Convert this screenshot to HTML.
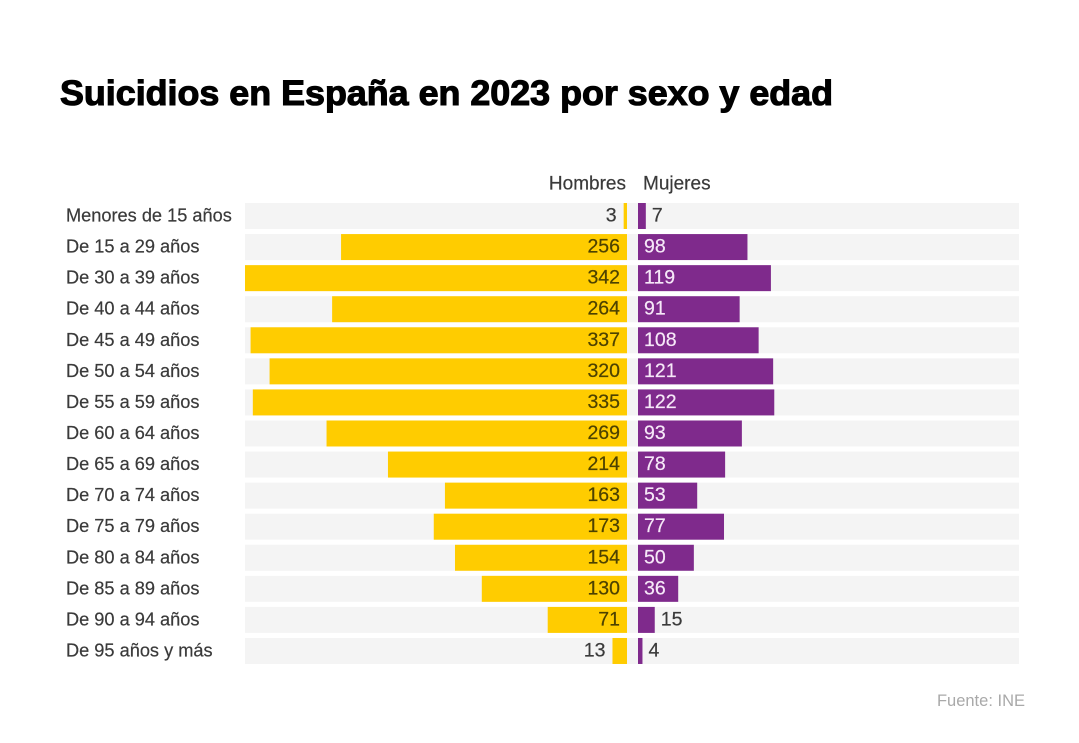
<!DOCTYPE html>
<html lang="es">
<head>
<meta charset="utf-8">
<title>Suicidios en España en 2023 por sexo y edad</title>
<style>
html,body{margin:0;padding:0;background:#fff;width:1079px;height:743px;overflow:hidden}
svg{display:block;font-family:"Liberation Sans",sans-serif;filter:blur(0.35px)}
</style>
</head>
<body>
<svg id="chart" width="1079" height="743" viewBox="0 0 1079 743" xmlns="http://www.w3.org/2000/svg">
  <text x="60" y="105" font-size="35" font-weight="700" fill="#000" stroke="#000" stroke-width="1.1" textLength="773" lengthAdjust="spacingAndGlyphs">Suicidios en España en 2023 por sexo y edad</text>
  <text x="626" y="189.500" font-size="19" fill="#3a3a3a" stroke="#3a3a3a" stroke-width="0.2" text-anchor="end">Hombres</text>
  <text x="643" y="189.500" font-size="19" fill="#3a3a3a" stroke="#3a3a3a" stroke-width="0.2">Mujeres</text>
  <g id="rows"></g>
  <text x="1025" y="706" font-size="16.500" fill="#a9a9a9" text-anchor="end">Fuente: INE</text>
</svg>
<script>
const categories = ["Menores de 15 años","De 15 a 29 años","De 30 a 39 años","De 40 a 44 años","De 45 a 49 años","De 50 a 54 años","De 55 a 59 años","De 60 a 64 años","De 65 a 69 años","De 70 a 74 años","De 75 a 79 años","De 80 a 84 años","De 85 a 89 años","De 90 a 94 años","De 95 años y más"];
const hombres = [3,256,342,264,337,320,335,269,214,163,173,154,130,71,13];
const mujeres = [7,98,119,91,108,121,122,93,78,53,77,50,36,15,4];

const NS = "http://www.w3.org/2000/svg";
const rowsGroup = document.getElementById("rows");
const pxPerUnit = 382 / 342;
const menBaseX = 627;
const womenBaseX = 638;
const trackLeft = 245;
const trackRight = 1019;
const firstRowY = 203;
const rowStep = 31.07;
const rowHeight = 26;
const insideThreshold = 20;

function widthOf(v) { return v * pxPerUnit; }
function rowY(i) { return firstRowY + i * rowStep; }

function makeRect(x, y, w, h, fill) {
  const r = document.createElementNS(NS, "rect");
  r.setAttribute("x", x);
  r.setAttribute("y", y);
  r.setAttribute("width", Math.max(w, 0));
  r.setAttribute("height", h);
  r.setAttribute("fill", fill);
  return r;
}
function makeText(x, y, str, size, fill, anchor) {
  const t = document.createElementNS(NS, "text");
  t.setAttribute("x", x);
  t.setAttribute("y", y);
  t.setAttribute("font-size", size);
  t.setAttribute("fill", fill);
  t.setAttribute("stroke", fill);
  t.setAttribute("stroke-width", "0.2");
  if (anchor) t.setAttribute("text-anchor", anchor);
  t.textContent = str;
  return t;
}

categories.forEach(function (cat, i) {
  const y = rowY(i);
  const baseline = y + 18.5;

  const label = makeText(66, baseline, cat, 18.2, "#3a3a3a");
  
  
  rowsGroup.appendChild(label);

  const track = makeRect(trackLeft, y, trackRight - trackLeft, rowHeight, "#f4f4f4");
  
  
  rowsGroup.appendChild(track);

  const mw = widthOf(hombres[i]);
  const menBar = makeRect(menBaseX - mw, y, mw, rowHeight, "#ffcc00");
  
  
  rowsGroup.appendChild(menBar);

  const fw = widthOf(mujeres[i]);
  const womenBar = makeRect(womenBaseX, y, fw, rowHeight, "#7f2a8c");
  
  
  rowsGroup.appendChild(womenBar);

  const menInside = hombres[i] >= insideThreshold;
  const menX = menInside ? menBaseX - 7 : menBaseX - mw - 7;
  const menValue = makeText(menX, baseline, String(hombres[i]), 19.5, menInside ? "#4d4200" : "#3a3a3a", "end");
  
  
  rowsGroup.appendChild(menValue);

  const womenInside = mujeres[i] >= insideThreshold;
  const womenX = womenInside ? womenBaseX + 6 : womenBaseX + fw + 6;
  const womenValue = makeText(womenX, baseline, String(mujeres[i]), 19.5, womenInside ? "#f6e8f8" : "#3a3a3a");
  
  
  rowsGroup.appendChild(womenValue);
});
</script>
</body>
</html>
